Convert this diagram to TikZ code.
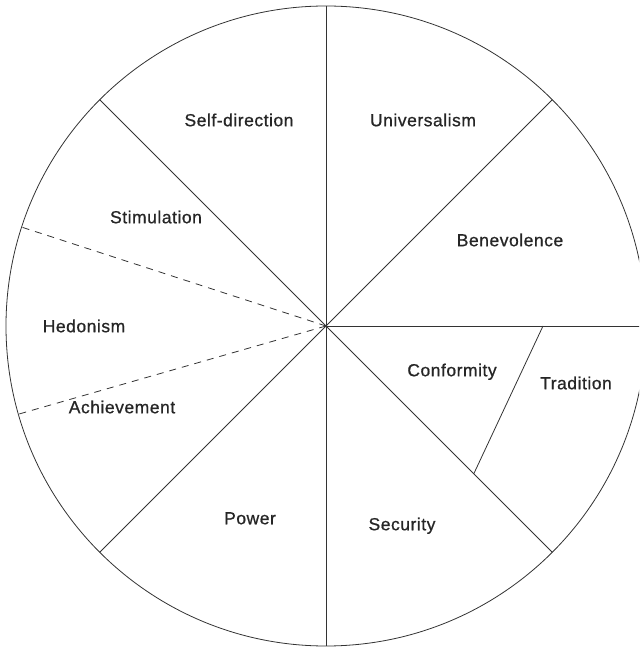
\documentclass[tikz,border=0pt]{standalone}
\usepackage{fontspec}
\setmainfont{Liberation Sans}
\newfontfamily\lblfont{Liberation Sans}[FakeBold=0.8,LetterSpace=3]
\usetikzlibrary{positioning,calc}

\tikzset{
  lbl/.style={font=\lblfont\fontsize{17.5}{20}\selectfont, text height=12.5pt, text depth=0pt, inner sep=0pt, text=black!85},
  spoke/.style={draw=black!80, line width=0.8pt}
}

\begin{document}
\begin{tikzpicture}[x=1pt,y=1pt]
\useasboundingbox (-326,-321) rectangle (313,326);
\clip (-326,-321) rectangle (313,326);

\coordinate (c) at (0,0);
\coordinate (top) at (90:320);
\coordinate (bot) at (270:320);
\coordinate (tl) at (135:320);
\coordinate (tr) at (45:320);
\coordinate (bl) at (225:320);
\coordinate (br) at (315:320);
\coordinate (rt) at (0:330);
\coordinate (dashup) at (162:320);
\coordinate (dashdn) at (196:320);
\coordinate (confa) at (0:217);
\coordinate (confb) at (315:209);

\draw[spoke] (c) circle (320);
\draw[spoke] (top) -- (bot);
\draw[spoke] (tl) -- (br);
\draw[spoke] (tr) -- (bl);
\draw[spoke] (c) -- (rt);
\draw[spoke] (confa) -- (confb);
\draw[spoke, dash pattern=on 7pt off 6pt] (c) -- (dashup);
\draw[spoke, dash pattern=on 7pt off 6pt] (c) -- (dashdn);

\node[lbl] (selfdir) at (-87,206) {Self-direction};
\node[lbl] (univ) at (97,206) {Universalism};
\node[lbl] (stim) at (-170,109) {Stimulation};
\node[lbl] (benev) at (184,86) {Benevolence};
\node[lbl] (hedon) at (-242,0) {Hedonism};
\node[lbl] (conf) at (126,-44) {Conformity};
\node[lbl] (trad) at (250,-57) {Tradition};
\node[lbl] (achiev) at (-204,-81) {Achievement};
\node[lbl] (power) at (-76,-192) {Power};
\node[lbl] (secur) at (76,-198) {Security};
\end{tikzpicture}
\end{document}
